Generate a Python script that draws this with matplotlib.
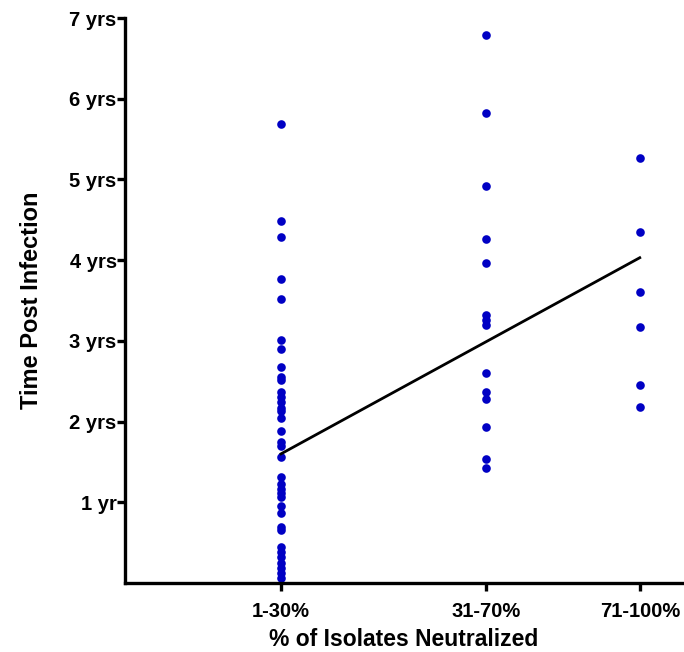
import numpy as np
import matplotlib
matplotlib.use("Agg")
import matplotlib.pyplot as plt

plt.rcParams["font.family"] = ["Liberation Sans", "DejaVu Sans"]
plt.rcParams["font.weight"] = "bold"

# group labels and where they sit on the x axis
groups = ["1-30%", "31-70%", "71-100%"]
group_pos = [1, 2, 2.75]

# time post infection (years)
low = [5.69, 4.49, 4.29, 3.77, 3.52, 3.01, 2.90, 2.68, 2.55, 2.52, 2.37, 2.30,
       2.24, 2.17, 2.13, 2.04, 1.88, 1.75, 1.70, 1.56, 1.31, 1.23, 1.16, 1.12,
       1.07, 0.95, 0.87, 0.69, 0.66, 0.45, 0.38, 0.32, 0.25, 0.19, 0.12, 0.06]
mid = [6.79, 5.82, 4.92, 4.26, 3.97, 3.32, 3.26, 3.20, 2.60, 2.37, 2.28, 1.93,
       1.54, 1.42]
high = [5.27, 4.35, 3.61, 3.17, 2.45, 2.18]

# trend line end values
trend_x = [1, 2.75]
trend_y = [1.60, 4.03]

yticks = [1, 2, 3, 4, 5, 6, 7]
ytick_labels = ["1 yr", "2 yrs", "3 yrs", "4 yrs", "5 yrs", "6 yrs", "7 yrs"]

fig = plt.figure(figsize=(6.84, 6.52), dpi=100)
ax = fig.add_axes([125 / 684, 1 - 583 / 652, 557 / 684, 565 / 652])

dot = "#0000c4"
for pos, vals in zip(group_pos, [low, mid, high]):
    ax.plot([pos] * len(vals), vals, "o", color=dot, markersize=6.2,
            markeredgewidth=0, clip_on=False)

ax.plot(trend_x, trend_y, color="black", lw=2.0)

ax.set_xlim(0.239, 0.239 + 557 / 205)
ax.set_ylim(0, 7)
ax.set_xticks(group_pos)
ax.set_xticklabels(groups)
ax.set_yticks(yticks)
ax.set_yticklabels(ytick_labels)

for s in ["top", "right"]:
    ax.spines[s].set_visible(False)
for s in ["left", "bottom"]:
    ax.spines[s].set_linewidth(2.4)

ax.tick_params(axis="both", width=2.4, length=6, labelsize=14.5, pad=0)
ax.tick_params(axis="x", pad=8)
for lab in ax.get_xticklabels() + ax.get_yticklabels():
    lab.set_fontweight("bold")

ax.set_xlabel("% of Isolates Neutralized", fontsize=16.5, fontweight="bold", labelpad=5)
ax.set_ylabel("Time Post Infection", fontsize=17, fontweight="bold", labelpad=19)

fig.savefig("out.png", dpi=100)
